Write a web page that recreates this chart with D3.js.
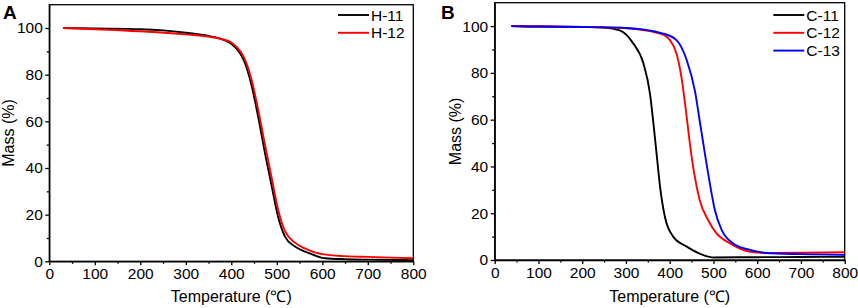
<!DOCTYPE html>
<html lang="en">
<head>
<meta charset="utf-8">
<title>TGA curves</title>
<script src="https://cdn.jsdelivr.net/npm/d3@7"></script>
<style>
  body { margin: 0; background: #fff; }
  svg { display: block; font-family: Arial, "Liberation Sans", sans-serif; }
  .axis path, .axis line { stroke: #000; stroke-width: 1.3; }
  .axis text { font-size: 15.5px; fill: #000; }
</style>
</head>
<body>
<script>
// temperature (°C) / mass (%)
var h11T = [30, 100, 200, 250, 300, 350, 380, 400, 420, 430, 445, 459, 474, 489, 503, 518, 540, 562, 580, 606, 650, 700, 800];
var h11M = [100, 99.8, 99.5, 99.0, 98.0, 96.6, 95.1, 93.3, 89.0, 85.0, 75.0, 62.0, 46.4, 32.0, 19.0, 10.6, 6.3, 4.1, 2.8, 1.3, 0.9, 0.7, 0.5];
var h12T = [30, 100, 200, 300, 350, 380, 400, 420, 430, 445, 459, 474, 489, 503, 518, 540, 562, 580, 600, 650, 700, 800];
var h12M = [100, 99.5, 98.6, 97.3, 96.3, 95.2, 93.8, 90.0, 86.5, 77.5, 65.0, 50.0, 35.5, 22.0, 13.0, 8.0, 5.5, 4.0, 3.1, 2.2, 1.9, 1.3];

var c11T = [38, 100, 200, 250, 286, 317, 340, 355, 362, 370, 378, 389, 408, 439, 477, 500, 600, 700, 800];
var c11M = [100, 99.8, 99.6, 99.4, 98.2, 92.5, 84.0, 71.0, 59.8, 45.5, 31.3, 18.5, 10.0, 5.7, 2.1, 1.1, 1.2, 1.3, 1.4];
var c12T = [38, 100, 200, 286, 378, 401, 416, 427, 437, 446, 456, 468, 488, 507, 538, 584, 620, 700, 800];
var c12M = [100, 99.8, 99.6, 99.3, 96.8, 93.9, 88.0, 78.0, 64.0, 50.0, 37.0, 26.0, 17.0, 11.4, 7.1, 3.5, 3.0, 3.1, 3.3];
var c13T = [38, 100, 200, 300, 385, 416, 439, 458, 469, 480, 491, 503, 519, 545, 584, 620, 700, 800];
var c13M = [100, 99.8, 99.6, 99.2, 96.8, 93.9, 85.4, 72.0, 59.0, 46.0, 33.5, 21.5, 12.8, 7.1, 4.3, 3.0, 2.5, 2.2];

var xTicks = [0, 100, 200, 300, 400, 500, 600, 700, 800];
var yTicks = [0, 20, 40, 60, 80, 100];

var panels = [
  { label: "A", left: 49.3, right: 413.3, top: 4.7, bottom: 261.3, yTitleX: 14, legendX: 338, legendY: 15, labelX: 3,
    series: [
      { name: "H-11", color: "#000", t: h11T, m: h11M },
      { name: "H-12", color: "#f00", t: h12T, m: h12M }
    ] },
  { label: "B", left: 494.7, right: 844.7, top: 2.7, bottom: 260, yTitleX: 460.5, legendX: 773.3, legendY: 15, labelX: 441,
    series: [
      { name: "C-11", color: "#000", t: c11T, m: c11M },
      { name: "C-12", color: "#f00", t: c12T, m: c12M },
      { name: "C-13", color: "#00f", t: c13T, m: c13M }
    ] }
];

var svg = d3.select("body").append("svg")
  .attr("width", 858)
  .attr("height", 308);

panels.forEach(function(p) {
  var x = d3.scaleLinear().domain([0, 800]).range([p.left, p.right]);
  var y = d3.scaleLinear().domain([0, 110]).range([p.bottom, p.top]);
  var g = svg.append("g");

  // minor ticks
  g.append("g")
    .attr("class", "axis")
    .attr("transform", "translate(0," + p.bottom + ")")
    .call(d3.axisBottom(x).tickValues(d3.range(50, 800, 100)).tickSize(2.5).tickFormat(""))
    .select(".domain").remove();
  g.append("g")
    .attr("class", "axis")
    .attr("transform", "translate(" + p.left + ",0)")
    .call(d3.axisLeft(y).tickValues(d3.range(10, 110, 20)).tickSize(2.5).tickFormat(""))
    .select(".domain").remove();

  g.append("g")
    .attr("class", "axis")
    .attr("transform", "translate(0," + p.bottom + ")")
    .call(d3.axisBottom(x).tickValues(xTicks).tickSize(4).tickSizeOuter(0).tickPadding(3));
  g.append("g")
    .attr("class", "axis")
    .attr("transform", "translate(" + p.left + ",0)")
    .call(d3.axisLeft(y).tickValues(yTicks).tickSize(4).tickSizeOuter(0).tickPadding(2.5));

  // frame
  g.append("rect")
    .attr("x", p.left).attr("y", p.top)
    .attr("width", p.right - p.left).attr("height", p.bottom - p.top)
    .attr("fill", "none").attr("stroke", "#000").attr("stroke-width", 1.3);

  var line = d3.line()
    .curve(d3.curveMonotoneX)
    .x(function(d) { return x(d[0]); })
    .y(function(d) { return y(d[1]); });

  p.series.forEach(function(s) {
    g.append("path")
      .datum(d3.zip(s.t, s.m))
      .attr("d", line)
      .attr("fill", "none")
      .attr("stroke", s.color)
      .attr("stroke-width", 1.9);
  });

  // legend
  var leg = g.append("g").selectAll("g")
    .data(p.series)
    .enter().append("g")
    .attr("transform", function(d, i) { return "translate(" + p.legendX + "," + (p.legendY + i * 17.8) + ")"; });
  leg.append("line")
    .attr("x1", 0).attr("x2", 31)
    .attr("stroke", function(d) { return d.color; })
    .attr("stroke-width", 1.9);
  leg.append("text")
    .attr("x", 33).attr("dy", "0.36em")
    .attr("font-size", 15.5)
    .text(function(d) { return d.name; });

  // titles
  g.append("text")
    .attr("x", (p.left + p.right) / 2).attr("y", 302)
    .attr("text-anchor", "middle").attr("font-size", 16)
    .text("Temperature (\u2103)");
  g.append("text")
    .attr("transform", "translate(" + p.yTitleX + "," + ((p.top + p.bottom) / 2) + ") rotate(-90)")
    .attr("text-anchor", "middle").attr("font-size", 16)
    .text("Mass (%)");
  g.append("text")
    .attr("x", p.labelX).attr("y", 18.5)
    .attr("font-size", 19).attr("font-weight", "bold")
    .text(p.label);
});
</script>
</body>
</html>
